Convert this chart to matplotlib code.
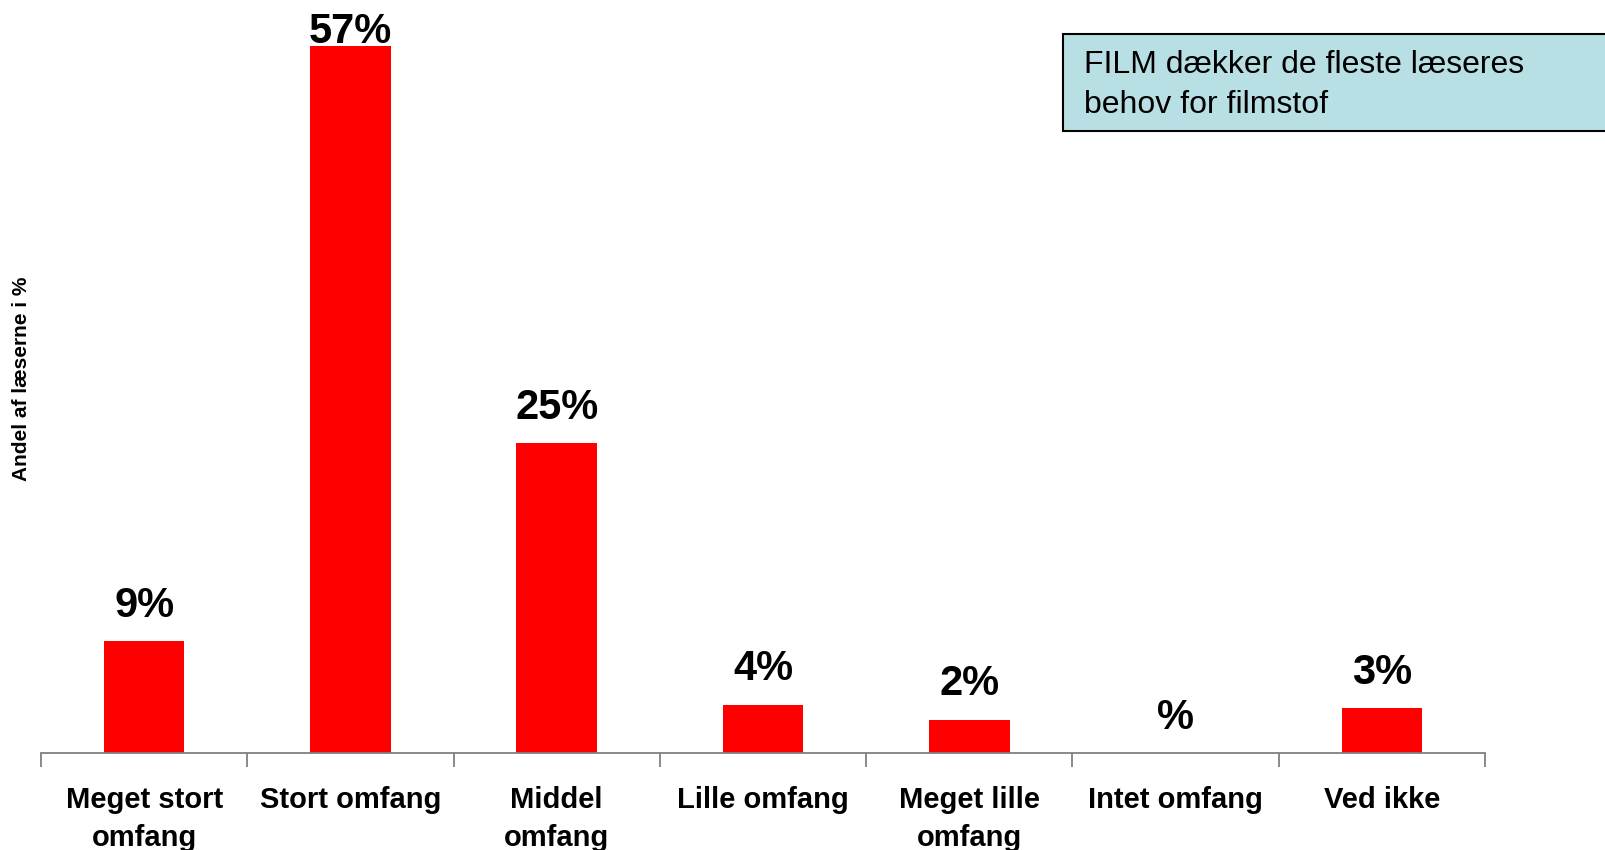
import matplotlib
matplotlib.use("Agg")
import matplotlib.pyplot as plt
from matplotlib.patches import Rectangle
import numpy as np

# ------------------------------------------------------------------ Data
categories = ["Meget stort\nomfang", "Stort omfang", "Middel\nomfang", "Lille omfang",
              "Meget lille\nomfang", "Intet omfang", "Ved ikke"]
values = [9.0, 57.0, 25.0, 3.9, 2.7, 0.0, 3.6]
labels = ["9%", "57%", "25%", "4%", "2%", "%", "3%"]

plt.rcParams["font.family"] = ["Liberation Sans", "DejaVu Sans"]

fig = plt.figure(figsize=(16.06, 8.5), dpi=100)
ax = fig.add_axes([41 / 1606, 97 / 850, (1485 - 41) / 1606, (804 - 97) / 850])

x = np.arange(len(categories))
ax.bar(x, values, width=0.39, color="#ff0000", zorder=2)

ax.set_xlim(-0.5, len(categories) - 0.5)
ax.set_ylim(0, 57)

# value labels above bars (clamped at top like Excel does)
for xi, v, lab in zip(x, values, labels):
    y = min(v + 1.95, 57.25)
    ax.text(xi, y, lab, ha="center", va="baseline", fontsize=30,
            fontweight="bold", clip_on=False)

for s in ["top", "right", "left"]:
    ax.spines[s].set_visible(False)
ax.spines["bottom"].set_color("#808080")
ax.spines["bottom"].set_linewidth(1.3)
ax.set_yticks([])

ax.set_xticks(x)
ax.set_xticklabels(categories, fontsize=21, fontweight="bold", linespacing=1.45,
                   va="top")
ax.tick_params(axis="x", which="major", length=0, pad=24)
ax.set_xticks(np.arange(-0.5, len(categories)), minor=True)
ax.tick_params(axis="x", which="minor", length=10, width=1.3, color="#808080")

fig.text(22 / 1606, 1 - 379 / 850, "Andel af læserne i %", rotation=90, fontsize=15,
         fontweight="bold", ha="center", va="center")

# info box in top right corner (runs off the right edge)
fig.patches.append(Rectangle((1063 / 1606, 1 - 131 / 850), 600 / 1606, 97 / 850,
                             transform=fig.transFigure, facecolor="#b8dfe3",
                             edgecolor="#000000", linewidth=1.5))
fig.text(1084 / 1606, 1 - 85 / 850, "FILM dækker de fleste læseres\nbehov for filmstof",
         fontsize=23, ha="left", va="center", linespacing=1.4)

fig.savefig("out.png", dpi=100)
